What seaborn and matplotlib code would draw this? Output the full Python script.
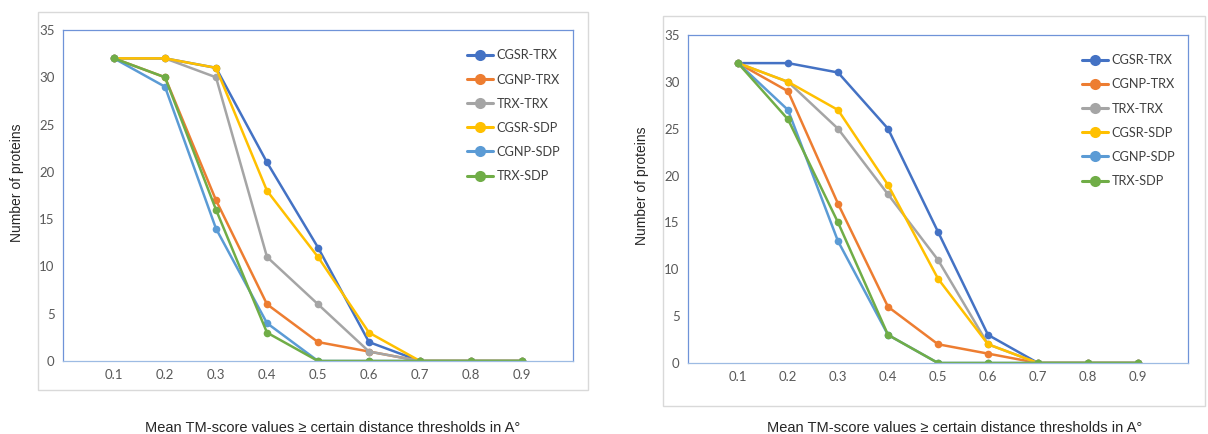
import pandas as pd
import numpy as np
import matplotlib.pyplot as plt
import matplotlib.patches as mpatches
import seaborn as sns

# ============================================================
# 1. Data
# ============================================================
thresholds = [0.1, 0.2, 0.3, 0.4, 0.5, 0.6, 0.7, 0.8, 0.9]
tick_labels = ["0.1", "0.2", "0.3", "0.4", "0.5", "0.6", "0.7", "0.8", "0.9"]
pairs = ["CGSR-TRX", "CGNP-TRX", "TRX-TRX", "CGSR-SDP", "CGNP-SDP", "TRX-SDP"]

left_cgsr_trx = [32, 32, 31, 21, 12, 2, 0, 0, 0]
left_cgnp_trx = [32, 30, 17, 6, 2, 1, 0, 0, 0]
left_trx_trx = [32, 32, 30, 11, 6, 1, 0, 0, 0]
left_cgsr_sdp = [32, 32, 31, 18, 11, 3, 0, 0, 0]
left_cgnp_sdp = [32, 29, 14, 4, 0, 0, 0, 0, 0]
left_trx_sdp = [32, 30, 16, 3, 0, 0, 0, 0, 0]

right_cgsr_trx = [32, 32, 31, 25, 14, 3, 0, 0, 0]
right_cgnp_trx = [32, 29, 17, 6, 2, 1, 0, 0, 0]
right_trx_trx = [32, 30, 25, 18, 11, 2, 0, 0, 0]
right_cgsr_sdp = [32, 30, 27, 19, 9, 2, 0, 0, 0]
right_cgnp_sdp = [32, 27, 13, 3, 0, 0, 0, 0, 0]
right_trx_sdp = [32, 26, 15, 3, 0, 0, 0, 0, 0]

palette = ["#4472C4", "#ED7D31", "#A5A5A5", "#FFC000", "#5B9BD5", "#70AD47"]


def to_long(series_list):
    rows = []
    for name, vals in zip(pairs, series_list):
        for t, v in zip(thresholds, vals):
            rows.append({"threshold": t, "count": v, "pair": name})
    return pd.DataFrame(rows)


df_left = to_long([left_cgsr_trx, left_cgnp_trx, left_trx_trx,
                   left_cgsr_sdp, left_cgnp_sdp, left_trx_sdp])
df_right = to_long([right_cgsr_trx, right_cgnp_trx, right_trx_trx,
                    right_cgsr_sdp, right_cgnp_sdp, right_trx_sdp])

# ============================================================
# 2. Figure
# ============================================================
sns.set_style("white")
plt.rcParams['font.family'] = ['Liberation Sans', 'DejaVu Sans']

W, H = 1208, 434
fig = plt.figure(figsize=(W / 100, H / 100), dpi=100)

# outer chart boxes (light gray frames)
for x0, y0, x1, y1 in [(38, 12, 588, 390), (663, 16, 1205, 406)]:
    fig.patches.append(mpatches.Rectangle((x0 / W, 1 - y1 / H), (x1 - x0) / W, (y1 - y0) / H,
                                          transform=fig.transFigure, fill=False,
                                          edgecolor="#d9d9d9", lw=1.0))

panels = [
    (df_left, (63, 30, 573, 361), 333, 17, 183),
    (df_right, (688, 35, 1188, 363), 955, 642, 186),
]

for df, (ax0, ay0, ax1, ay1), xlab_x, ylab_x, ylab_y in panels:
    ax = fig.add_axes([ax0 / W, 1 - ay1 / H, (ax1 - ax0) / W, (ay1 - ay0) / H])
    sns.lineplot(data=df, x="threshold", y="count", hue="pair", hue_order=pairs,
                 palette=palette, marker="o", markersize=5.5, markeredgewidth=0,
                 linewidth=1.8, ax=ax)
    ax.set_xlim(0, 1.0)
    ax.set_ylim(0, 35)
    ax.set_xticks(thresholds)
    ax.set_xticklabels(tick_labels)
    ax.set_yticks(range(0, 36, 5))
    ax.tick_params(axis="both", length=0, labelsize=9.5, colors="#595959", pad=6)
    for lab in ax.get_xticklabels() + ax.get_yticklabels():
        lab.set_family(["Lato", "DejaVu Sans"])
    for s in ax.spines.values():
        s.set_color("#6f93d8")
        s.set_linewidth(0.9)
    ax.spines["bottom"].set_color("#9dbbe3")
    ax.set_xlabel("")
    ax.set_ylabel("")
    leg = ax.legend(loc="upper right", frameon=False, fontsize=9.2,
                    labelspacing=0.95, handlelength=2.0, handletextpad=0.3,
                    borderaxespad=0.6, bbox_to_anchor=(1.0, 0.98))
    for t in leg.get_texts():
        t.set_color("#404040")
        t.set_family(["Lato", "DejaVu Sans"])
    for h in leg.legend_handles:
        h.set_markersize(8)
        h.set_linewidth(2.2)
    fig.text(ylab_x / W, 1 - ylab_y / H, "Number of proteins",
             rotation=90, ha="center", va="center", fontsize=10)
    fig.text(xlab_x / W, 1 - 428 / H, "Mean TM-score values \u2265 certain distance thresholds in A\u00b0",
             ha="center", va="center", fontsize=10.5)

plt.savefig("out.png", dpi=100)
